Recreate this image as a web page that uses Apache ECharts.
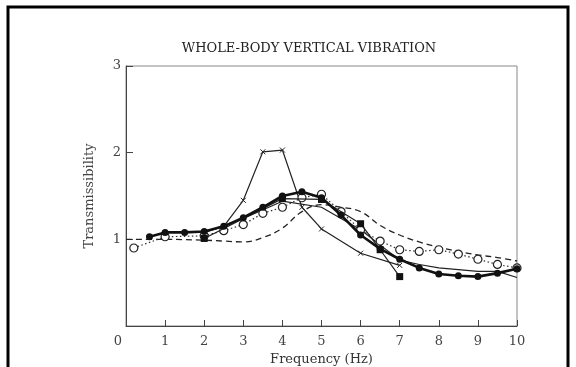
<!DOCTYPE html>
<html>
<head>
<meta charset="utf-8">
<script src="https://cdn.jsdelivr.net/npm/echarts@6/dist/echarts.min.js"></script>
<style>
  html, body { margin: 0; padding: 0; background: #fff; }
  #chart { width: 576px; height: 367px; }
</style>
</head>
<body>
<div id="chart"></div>
<script>
// Transmissibility curves, whole-body vertical vibration (frequency in Hz)
const titleText = 'WHOLE-BODY VERTICAL VIBRATION';
const xTicks = [0, 1, 2, 3, 4, 5, 6, 7, 8, 9, 10];
const yTicks = [0, 1, 2, 3];

// heavy line, filled circles
const seriesFilledCircle = [
  [0.6, 1.03], [1.0, 1.08], [1.5, 1.08], [2.0, 1.09], [2.5, 1.15], [3.0, 1.25],
  [3.5, 1.37], [4.0, 1.50], [4.5, 1.55], [5.0, 1.48], [5.5, 1.28], [6.0, 1.05],
  [6.5, 0.89], [7.0, 0.77], [7.5, 0.67], [8.0, 0.60], [8.5, 0.58], [9.0, 0.57],
  [9.5, 0.61], [10.0, 0.66]
];
// dotted line, open circles
const seriesOpenCircle = [
  [0.2, 0.90], [1.0, 1.03], [2.0, 1.04], [2.5, 1.10], [3.0, 1.17], [3.5, 1.30],
  [4.0, 1.37], [4.5, 1.48], [5.0, 1.52], [5.5, 1.32], [6.0, 1.11], [6.5, 0.98],
  [7.0, 0.88], [7.5, 0.86], [8.0, 0.88], [8.5, 0.83], [9.0, 0.77], [9.5, 0.71],
  [10.0, 0.67]
];
// thin line, cross marks
const seriesCross = [
  [2.0, 1.08], [2.5, 1.15], [3.0, 1.45], [3.5, 2.01], [4.0, 2.03], [4.5, 1.37],
  [5.0, 1.12], [6.0, 0.84], [7.0, 0.70]
];
// thin line, filled squares
const seriesSquare = [
  [2.0, 1.01], [4.0, 1.47], [5.0, 1.46], [6.0, 1.18], [6.5, 0.88], [7.0, 0.57]
];
// thin line, no marks
const seriesPlain = [
  [2.0, 1.08], [3.0, 1.24], [4.0, 1.44], [5.0, 1.37], [6.0, 1.11], [7.0, 0.76],
  [7.5, 0.71], [8.0, 0.67], [9.0, 0.63], [9.5, 0.63], [10.0, 0.56]
];
// dashed smooth curve
const seriesDashed = [
  [0.0, 1.00], [1.0, 1.00], [2.0, 0.99], [2.5, 0.98], [3.0, 0.97], [3.5, 1.02],
  [4.0, 1.13], [4.5, 1.32], [5.0, 1.40], [5.5, 1.37], [6.0, 1.32], [6.5, 1.16],
  [7.0, 1.05], [7.5, 0.97], [8.0, 0.91], [8.5, 0.86], [9.0, 0.82], [9.5, 0.79],
  [10.0, 0.75]
];

const FONT = 'DejaVu Serif';

const chart = echarts.init(document.getElementById('chart'), null, { renderer: 'canvas' });

chart.setOption({
  animation: false,
  backgroundColor: '#fff',
  title: {
    text: titleText,
    left: 304, top: 37, textAlign: 'center',
    textStyle: { fontFamily: FONT, fontSize: 13, fontWeight: 'normal', color: '#222' }
  },
  graphic: [{
    type: 'rect',
    shape: { x: 8, y: 7, width: 560, height: 380 },
    style: { fill: 'none', stroke: '#000', lineWidth: 3 },
    silent: true
  }],
  grid: {
    left: 126, top: 66, width: 391, height: 260,
    containLabel: false, outerBoundsMode: 'none',
    show: true, borderColor: '#888', borderWidth: 1
  },
  xAxis: {
    type: 'value', min: xTicks[0], max: xTicks[xTicks.length - 1], interval: 1,
    name: 'Frequency (Hz)', nameLocation: 'middle', nameGap: 27,
    nameTextStyle: { fontFamily: FONT, fontSize: 13, color: '#333' },
    axisLine: { lineStyle: { color: '#444', width: 1 } },
    axisTick: { inside: true, length: 6, lineStyle: { color: '#444' } },
    splitLine: { show: false },
    axisLabel: {
      fontFamily: FONT, fontSize: 13, color: '#444', margin: 9,
      formatter: v => v === 0 ? '{z|0}' : String(v),
      rich: { z: { fontFamily: FONT, fontSize: 13, color: '#444', padding: [0, 16, 0, 0] } }
    }
  },
  yAxis: {
    type: 'value', min: yTicks[0], max: yTicks[yTicks.length - 1], interval: 1,
    name: 'Transmissibility', nameLocation: 'middle', nameGap: 30,
    nameTextStyle: { fontFamily: FONT, fontSize: 13, color: '#444' },
    axisLine: { show: true, lineStyle: { color: '#444', width: 1 } },
    axisTick: { show: true, inside: true, length: 7, lineStyle: { color: '#444' } },
    splitLine: { show: false },
    axisLabel: {
      fontFamily: FONT, fontSize: 13, color: '#444', margin: 5,
      formatter: v => v === 0 ? '' : String(v)
    }
  },
  series: [
    {
      type: 'line', data: seriesDashed, smooth: 0.4, symbol: 'none',
      lineStyle: { color: '#222', width: 1.3, type: [6, 4] }, z: 2
    },
    {
      type: 'line', data: seriesPlain, symbol: 'none',
      lineStyle: { color: '#222', width: 1.2 }, z: 2
    },
    {
      type: 'line', data: seriesCross, symbol: 'path://M0,0L10,10M10,0L0,10', symbolSize: 5,
      itemStyle: { color: '#222', borderColor: '#222', borderWidth: 1 },
      lineStyle: { color: '#222', width: 1.2 }, z: 3
    },
    {
      type: 'line', data: seriesOpenCircle, symbol: 'circle', symbolSize: 8,
      itemStyle: { color: '#fff', borderColor: '#222', borderWidth: 1.2 },
      lineStyle: { color: '#333', width: 1.2, type: [1.5, 2.5] }, z: 4
    },
    {
      type: 'line', data: seriesSquare, symbol: 'rect', symbolSize: 7,
      itemStyle: { color: '#111' },
      lineStyle: { color: '#222', width: 1.2 }, z: 5
    },
    {
      type: 'line', data: seriesFilledCircle, symbol: 'circle', symbolSize: 7,
      itemStyle: { color: '#111' },
      lineStyle: { color: '#111', width: 2.6 }, z: 6
    }
  ]
});
</script>
</body>
</html>
